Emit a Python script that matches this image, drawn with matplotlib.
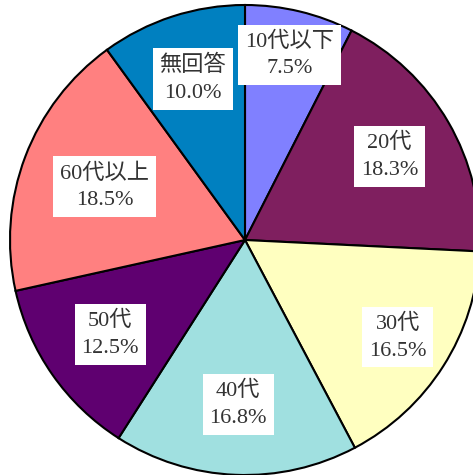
import numpy as np
import matplotlib
matplotlib.use("Agg")
import matplotlib.pyplot as plt

labels = ["10代以下", "20代", "30代", "40代", "50代", "60代以上", "無回答"]
values = [7.5, 18.3, 16.5, 16.8, 12.5, 18.5, 10.0]
colors = ["#8080FF", "#7F1F5F", "#FFFFC0", "#A0E0E0", "#5F0070", "#FF8080", "#0080C0"]
label_r = [0.81, 0.71, 0.77, 0.70, 0.70, 0.64, 0.72]

W, H = 473, 475
cx, cy, R = 245, 240, 235

fig = plt.figure(figsize=(W / 100, H / 100), dpi=100)
ax = fig.add_axes([0, 0, 1, 1])

wedges, _ = ax.pie(values, colors=colors, startangle=90, counterclock=False,
                   wedgeprops=dict(edgecolor="black", linewidth=1.5))

for w, lab, v, r in zip(wedges, labels, values, label_r):
    ang = np.deg2rad((w.theta1 + w.theta2) / 2)
    ax.text(r * np.cos(ang), r * np.sin(ang), f"{lab}\n{v:.1f}%",
            ha="center", va="center", fontsize=16, color="#333333",
            family=["Liberation Serif", "Noto Sans CJK JP"], linespacing=1.55,
            bbox=dict(facecolor="white", edgecolor="none", pad=5))

ax.set_xlim(-cx / R, (W - cx) / R)
ax.set_ylim(-(H - cy) / R, cy / R)
ax.set_aspect("auto")
ax.axis("off")

fig.savefig("out.png", dpi=100)
